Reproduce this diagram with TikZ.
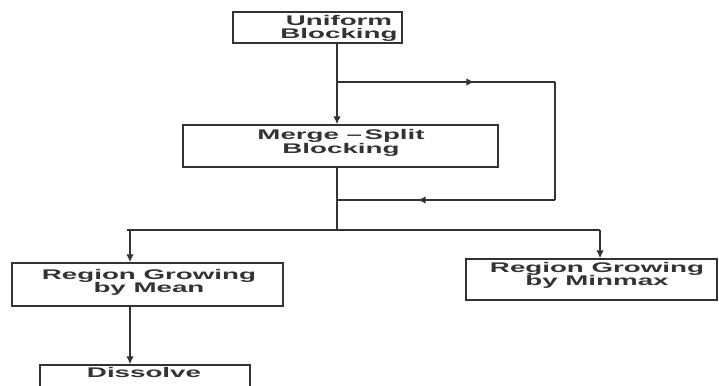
\documentclass[tikz,border=0pt]{standalone}
\usepackage{fontspec}
\newfontfamily\diagfont{Liberation Sans Bold}[FakeStretch=1.98]
\usetikzlibrary{arrows.meta,decorations.markings}
\tikzset{
  box/.style={draw=black!80,line width=1.3pt,fill=white,inner sep=0pt},
  lbl/.style={font=\diagfont\fontsize{14}{13.5}\selectfont,align=center,inner sep=0pt,text=black!80},
  conn/.style={draw=black!80,line width=1.5pt},
  arr/.style={conn,-{Latex[length=8pt,width=7.5pt]}},
  midarrow/.style={postaction={decorate},decoration={markings,
    mark=at position #1 with {\arrow{Latex[length=8pt,width=7.5pt]}}}}
}
\begin{document}
\begin{tikzpicture}[x=1pt,y=-1pt]
\useasboundingbox (0,0) rectangle (719,385);
\clip (0,0) rectangle (719,385);
\fill[white] (0,0) rectangle (719,385);
% boxes
\node[box,minimum width=169pt,minimum height=31pt] (ub) at (317.5,27.5) {};
\node[box,minimum width=315pt,minimum height=42pt] (ms) at (340.5,146) {};
\node[box,minimum width=271pt,minimum height=43pt] (rm) at (147.5,284.5) {};
\node[box,minimum width=251pt,minimum height=41pt] (rx) at (591.5,279.5) {};
\node[box,minimum width=210pt,minimum height=40pt] (dis) at (145,385) {};
% labels
\node[lbl] (ubt) at (339,28.5) {Uniform\\Blocking};
\node[lbl] (mst) at (341,143) {Merge –\,Split\\Blocking};
\node[lbl] (rmt) at (149,282.5) {Region Growing\\by Mean};
\node[lbl] (rxt) at (597,275.5) {Region Growing\\by Minmax};
\node[lbl] (dist) at (144,372.5) {Dissolve};
% junctions
\coordinate (j1) at (337,82);
\coordinate (c1) at (555,82);
\coordinate (c2) at (555,200);
\coordinate (j2) at (337,200);
\coordinate (j3) at (337,230);
\coordinate (l) at (127,230);
\coordinate (r) at (600,230);
\coordinate (la) at (130,230);
% connectors
\draw[arr] (j1 |- ub.south) -- (j1 |- ms.north);
\draw[conn,midarrow=0.63] (j1) -- (c1);
\draw[conn] (c1) -- (c2);
\draw[conn,midarrow=0.63] (c2) -- (j2);
\draw[conn] (j3 |- ms.south) -- (j3);
\draw[conn] (l) -- (r);
\draw[arr] (la) -- (la |- rm.north);
\draw[arr] (r) -- (r |- rx.north);
\draw[arr] (la |- rm.south) -- (la |- dis.north);
\end{tikzpicture}
\end{document}
